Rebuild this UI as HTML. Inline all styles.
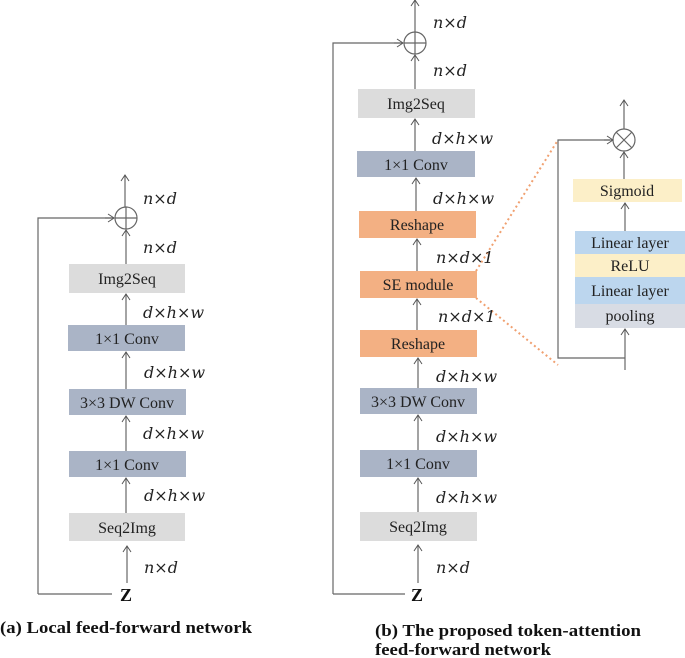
<!DOCTYPE html>
<html><head><meta charset="utf-8"><style>body{margin:0;background:#fff}svg{display:block}</style></head>
<body>
<svg width="685" height="658" viewBox="0 0 685 658" xmlns="http://www.w3.org/2000/svg">
<defs>
<marker id="r" markerWidth="10" markerHeight="10" refX="9" refY="5" orient="auto" markerUnits="userSpaceOnUse" viewBox="0 0 10 10">
<path d="M3,1 L9,5 L3,9" fill="none" stroke="#555" stroke-width="1"/></marker>
</defs>
<g stroke="#666" stroke-width="1.2" fill="none">
<!-- left -->
<path d="M125,207 V175" marker-end="url(#r)"/>
<path d="M38,594 H112 M38,594 V218 H113" /><path d="M105,218 H114" marker-end="url(#r)"/>
<circle cx="126" cy="218" r="11"/><path d="M115,218 H137 M126,207 V229"/>
<path d="M126,264 V230" marker-end="url(#r)"/>
<path d="M126,325 V294" marker-end="url(#r)"/>
<path d="M126,389 V352" marker-end="url(#r)"/>
<path d="M126,451 V416" marker-end="url(#r)"/>
<path d="M126,513 V478" marker-end="url(#r)"/>
<path d="M127,583 V546" marker-end="url(#r)"/>
<!-- right -->
<path d="M415,32 V0" marker-end="url(#r)"/>
<path d="M333,594 H405 M333,594 V43 H402"/><path d="M394,43 H403" marker-end="url(#r)"/>
<circle cx="415" cy="43" r="11"/><path d="M404,43 H426 M415,32 V54"/>
<path d="M415,89 V55" marker-end="url(#r)"/>
<path d="M415,151 V119" marker-end="url(#r)"/>
<path d="M416,211 V178" marker-end="url(#r)"/>
<path d="M417,271 V239" marker-end="url(#r)"/>
<path d="M417,330 V299" marker-end="url(#r)"/>
<path d="M418,388 V358" marker-end="url(#r)"/>
<path d="M418,450 V415" marker-end="url(#r)"/>
<path d="M418,512 V478" marker-end="url(#r)"/>
<path d="M418,583 V545" marker-end="url(#r)"/>
<!-- SE detail -->
<path d="M624,129 V100" marker-end="url(#r)"/>
<path d="M625,358 H558 V140 H610"/><path d="M604,140 H613" marker-end="url(#r)"/>
<circle cx="624" cy="140" r="11"/><path d="M616,132 L632,148 M632,132 L616,148"/>
<path d="M624,179 V152" marker-end="url(#r)"/>
<path d="M625,231 V203" marker-end="url(#r)"/>
<path d="M625,370 V329" marker-end="url(#r)"/>
</g>
<g stroke="#f0a070" stroke-width="2" stroke-dasharray="2,3" fill="none">
<path d="M476,271 L558,140"/><path d="M476,298 L558,365"/>
</g>
<g>
<rect x="69" y="264" width="116" height="29" fill="#dcdcdc"/>
<rect x="68" y="325" width="117" height="26" fill="#aab4c6"/>
<rect x="69" y="389" width="117" height="26" fill="#aab4c6"/>
<rect x="69" y="451" width="117" height="26" fill="#aab4c6"/>
<rect x="69" y="513" width="116" height="28" fill="#dcdcdc"/>
<rect x="358" y="89" width="117" height="29" fill="#dcdcdc"/>
<rect x="357" y="151" width="118" height="26" fill="#aab4c6"/>
<rect x="359" y="211" width="117" height="27" fill="#f3b083"/>
<rect x="360" y="271" width="117" height="27" fill="#f3b083"/>
<rect x="360" y="330" width="117" height="27" fill="#f3b083"/>
<rect x="360" y="388" width="117" height="26" fill="#aab4c6"/>
<rect x="360" y="450" width="117" height="27" fill="#aab4c6"/>
<rect x="360" y="512" width="117" height="29" fill="#dcdcdc"/>
<rect x="573" y="179" width="109" height="23" fill="#fcefc8"/>
<rect x="575" y="231" width="110" height="23" fill="#bcd6ee"/>
<rect x="575" y="254" width="110" height="23" fill="#fcefc8"/>
<rect x="575" y="277" width="110" height="27" fill="#bcd6ee"/>
<rect x="575" y="304" width="110" height="24" fill="#d8dce4"/>
</g>
<g font-family="Liberation Serif, serif" font-size="16" fill="#222" text-anchor="middle">
<text x="127" y="284">Img2Seq</text>
<text x="127" y="344">1×1 Conv</text>
<text x="127" y="408">3×3 DW Conv</text>
<text x="127" y="470">1×1 Conv</text>
<text x="127" y="533">Seq2Img</text>
<text x="416" y="109">Img2Seq</text>
<text x="416" y="170">1×1 Conv</text>
<text x="417" y="230">Reshape</text>
<text x="418" y="290">SE module</text>
<text x="418" y="349">Reshape</text>
<text x="418" y="407">3×3 DW Conv</text>
<text x="418" y="469">1×1 Conv</text>
<text x="418" y="532">Seq2Img</text>
<text x="627" y="196">Sigmoid</text>
<text x="630" y="248">Linear layer</text>
<text x="630" y="271">ReLU</text>
<text x="630" y="296">Linear layer</text>
<text x="630" y="321">pooling</text>
</g>
<g font-family="DejaVu Serif, Liberation Serif, serif" font-style="italic" font-size="16" fill="#222">
<text x="143" y="204">n×d</text>
<text x="143" y="253">n×d</text>
<text x="143" y="318">d×h×w</text>
<text x="144" y="378">d×h×w</text>
<text x="143" y="439">d×h×w</text>
<text x="144" y="501">d×h×w</text>
<text x="144" y="573">n×d</text>
<text x="433" y="28">n×d</text>
<text x="433" y="76">n×d</text>
<text x="432" y="144">d×h×w</text>
<text x="433" y="204">d×h×w</text>
<text x="436" y="263">n×d×1</text>
<text x="438" y="322">n×d×1</text>
<text x="436" y="382">d×h×w</text>
<text x="436" y="442">d×h×w</text>
<text x="436" y="503">d×h×w</text>
<text x="436" y="573">n×d</text>
</g>
<g font-family="Liberation Serif, serif" font-weight="bold" fill="#111">
<text x="120" y="601" font-size="18">Z</text>
<text x="411" y="601" font-size="18">Z</text>
<text x="0" y="633" font-size="17" textLength="252" lengthAdjust="spacingAndGlyphs">(a) Local feed-forward network</text>
<text x="375" y="636" font-size="17" textLength="266" lengthAdjust="spacingAndGlyphs">(b) The proposed token-attention</text>
<text x="375" y="655" font-size="17" textLength="176" lengthAdjust="spacingAndGlyphs">feed-forward network</text>
</g>
</svg>
</body></html>
